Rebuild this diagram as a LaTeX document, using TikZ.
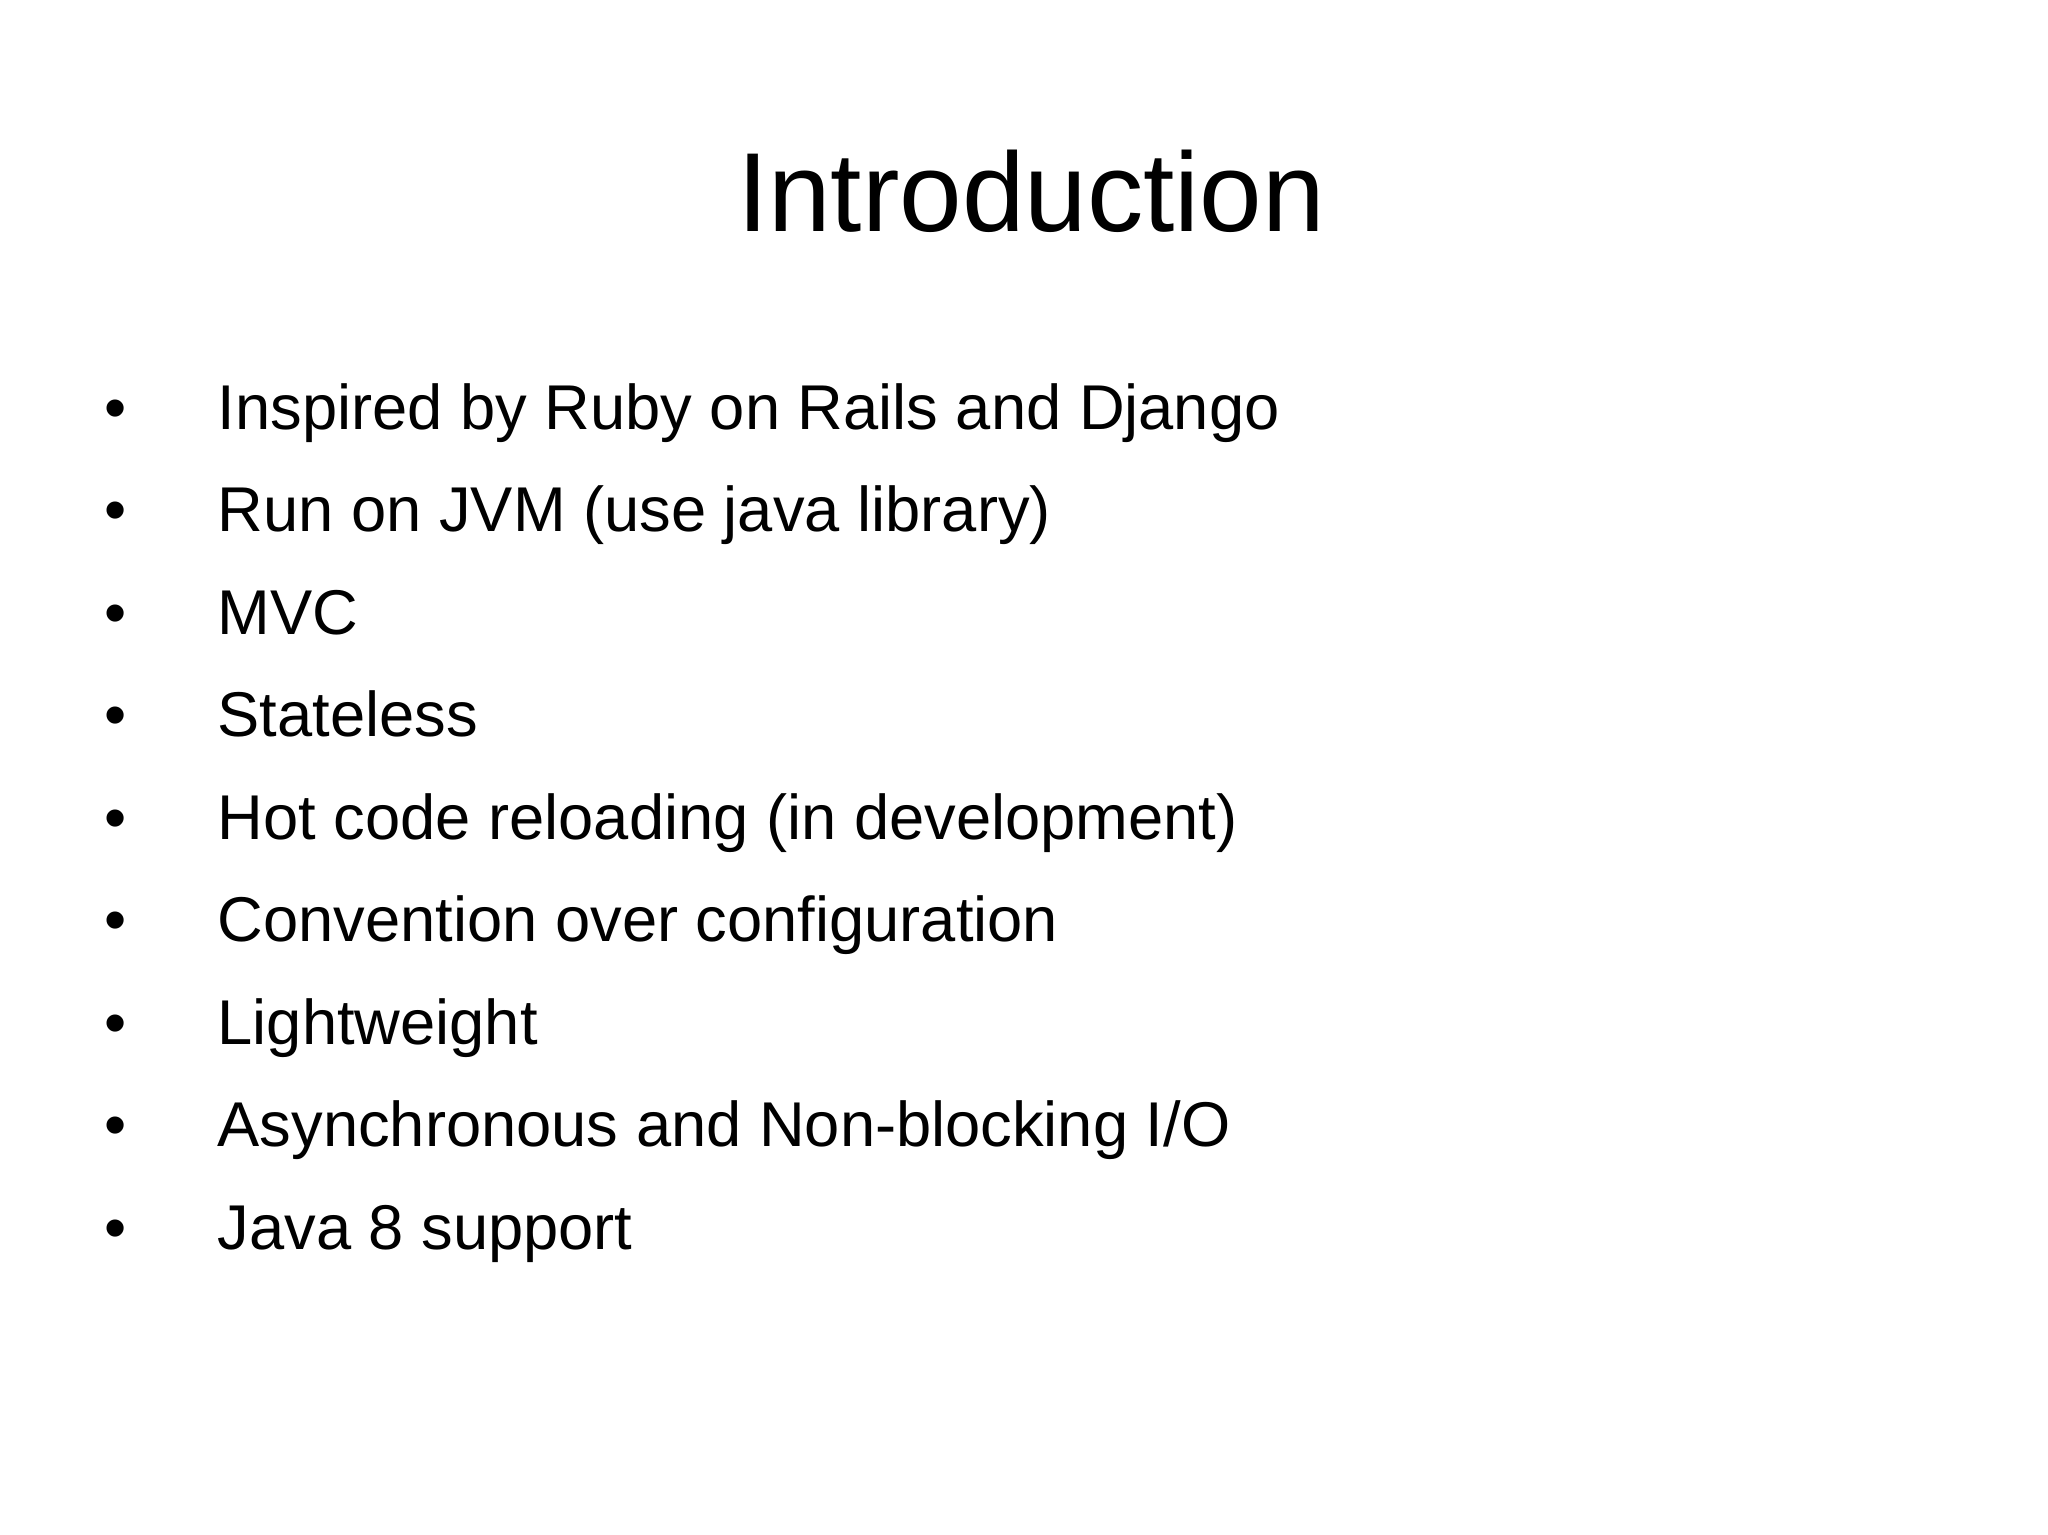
\documentclass[tikz,border=0pt]{standalone}
\usepackage{fontspec}
\setmainfont{Liberation Sans}
\usetikzlibrary{positioning}

\begin{document}
\begin{tikzpicture}[
    title/.style={font=\fontsize{32}{38}\selectfont, anchor=base},
    item/.style={font=\fontsize{18}{22}\selectfont, anchor=base west, inner sep=0pt},
    bulletmark/.style={font=\fontsize{18}{22}\selectfont, anchor=base, inner sep=0pt}
]
   \useasboundingbox (0,0) rectangle (20.48,-15.35);

   % Title
   \node[title] (heading) at (10.31,-2.31) {Introduction};

   % Bullet list
   \foreach \txt [count=\i] in {Inspired by Ruby on Rails and Django,
       Run on JVM (use java library), MVC, Stateless,
       Hot code reloading (in development), Convention over configuration,
       Lightweight, Asynchronous and Non-blocking I/O, Java 8 support}
   {
      \node[bulletmark] (dot\i) at (1.16,{-4.29-1.025*(\i-1)}) {\textbullet};
      \node[item] (point\i) at (2.17,{-4.29-1.025*(\i-1)}) {\txt};
   }
\end{tikzpicture}
\end{document}
